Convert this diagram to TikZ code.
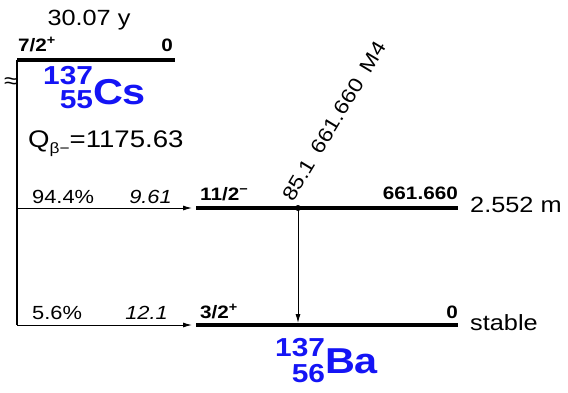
\documentclass[tikz,border=0pt]{standalone}
\usepackage{fontspec}
\setmainfont{Liberation Sans}[FakeStretch=1.15]
\usetikzlibrary{arrows.meta,positioning}
\definecolor{nucblue}{HTML}{1414F5}
\newcommand{\fsz}[1]{\fontsize{#1}{#1}\selectfont}
\newcommand{\nuclide}[5]{\raisebox{-#4}{\fontsize{26}{#5}\selectfont\begin{tabular}[b]{@{}r@{}}#1\\#2\end{tabular}}\fsz{36}#3}

\begin{document}
\begin{tikzpicture}[x=1pt,y=-1pt,>={Latex[length=9pt,width=5pt]},
    lvl/.style={line width=4.5pt},
    lbl/.style={inner sep=0pt,font=\fsz{18}\bfseries},
    txt/.style={inner sep=0pt,font=\fsz{22}},
    br/.style={inner sep=0pt,font=\fsz{19}},
    nuc/.style={inner sep=0pt,anchor=base west,text=nucblue,font=\bfseries}]
  \useasboundingbox (0,0) rectangle (568,392);
  % parent
  \coordinate (csL) at (17,60);
  \coordinate (csR) at (175,60);
  \draw[lvl] (csL) -- (csR);
  \node[txt,anchor=base] (thalf) at (89,25) {30.07 y};
  \node[lbl,anchor=base west] (csJ) at (18,51) {7/2\textsuperscript{+}};
  \node[lbl,anchor=base east] (csE) at (173,51) {0};
  \node[inner sep=0pt,font=\fsz{22}] (approx) at (11,83) {≈};
  \node[nuc] (cs) at (43,104) {\nuclide{137}{55}{Cs}{4pt}{20pt}};
  \node[txt,anchor=base west,font=\fsz{24}] (qval) at (28,147) {Q\raisebox{-6pt}{\fsz{15}β−}=1175.63};
  % daughter levels
  \coordinate (m1L) at (196,208);
  \coordinate (m1R) at (458,208);
  \coordinate (gsL) at (196,325);
  \coordinate (gsR) at (458,325);
  \draw[lvl] (m1L) -- (m1R);
  \draw[lvl] (gsL) -- (gsR);
  \node[lbl,anchor=base west] (m1J) at (200,200) {11/2\textsuperscript{−}};
  \node[lbl,anchor=base east] (m1E) at (458,199) {661.660};
  \node[txt,anchor=base west] (m1T) at (470,212) {2.552 m};
  \node[lbl,anchor=base west] (gsJ) at (200,318) {3/2\textsuperscript{+}};
  \node[lbl,anchor=base east] (gsE) at (458,318) {0};
  \node[txt,anchor=base west] (gsT) at (470,330) {stable};
  \node[nuc] (ba) at (275,373) {\nuclide{137}{56}{Ba}{9pt}{25pt}};
  % beta branches
  \draw[line width=1.2pt] (csL) -- (csL |- gsL);
  \draw[->,line width=1pt] (csL |- m1L) -- ([xshift=-4pt]m1L);
  \draw[->,line width=1pt] (csL |- gsL) -- ([xshift=-4pt]gsL);
  \node[br,anchor=base west] (i1) at (32,203) {94.4\%};
  \node[br,anchor=base east,font=\fsz{19}\itshape] (lf1) at (172,203) {9.61};
  \node[br,anchor=base west] (i2) at (32,319) {5.6\%};
  \node[br,anchor=base east,font=\fsz{19}\itshape] (lf2) at (168,319) {12.1};
  % gamma
  \coordinate (gam) at (298,208);
  \draw[->,line width=1pt,shorten >=2pt] (gam) -- (gam |- gsL);
  \fill (gam) circle (3pt);
  \node[inner sep=0pt,anchor=base west,rotate=59,font=\fsz{20}] (gamlbl) at (293,203) {85.1\hspace{11pt}661.660\hspace{11pt}M4};
\end{tikzpicture}
\end{document}
